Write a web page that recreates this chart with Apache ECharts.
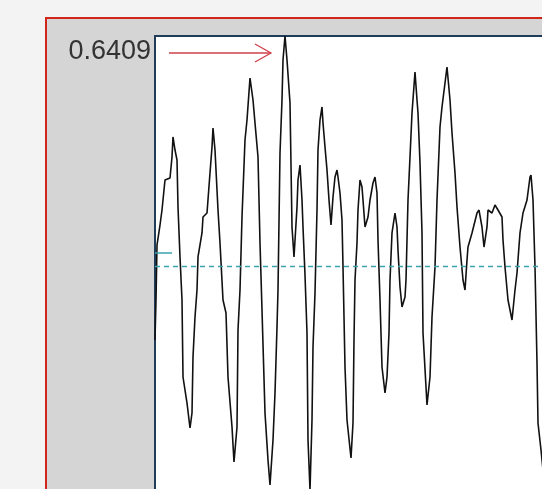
<!DOCTYPE html>
<html>
<head>
<meta charset="utf-8">
<script src="https://cdn.jsdelivr.net/npm/echarts@6/dist/echarts.min.js"></script>
<style>
html,body{margin:0;padding:0;background:#f3f3f3;}
#chart{width:542px;height:489px;}
</style>
</head>
<body>
<div id="chart"></div>
<script>
// sample index (time) of each traced point
const sampleTimes = [0,1,2,5,7,10,15,17,18,20,22,23,25,27,28,32,35,37,38,40,42,43,47,48,52,55,57,58,60,63,65,68,71,73,77,79,82,83,85,87,90,92,95,98,100,103,105,107,110,113,115,118,120,122,123,125,127,128,130,132,135,137,139,142,143,145,147,148,150,152,153,155,157,158,160,162,163,165,167,168,170,172,174,176,178,180,182,183,185,187,188,190,192,196,198,199,200,202,203,205,207,208,210,213,215,218,220,222,223,225,227,230,232,234,235,237,240,242,243,245,247,250,251,253,255,257,260,262,263,265,267,268,272,275,277,280,282,285,287,292,295,297,300,302,305,308,310,312,313,317,322,324,327,329,332,333,337,340,343,347,348,350,353,357,360,362,365,368,372,375,376,378,380,382,383,386,388];
// signal amplitude at each traced point
const amplitudes = [-0.2062,-0.0947,0.0585,0.1142,0.1560,0.2396,0.2452,0.3037,0.3595,0.3232,0.2954,0.1644,0.0251,-0.0947,-0.3093,-0.3818,-0.4514,-0.4096,-0.2536,-0.1421,-0.0669,0.0251,0.0920,0.1365,0.1477,0.2591,0.3316,0.3845,0.3232,0.1560,0.0641,-0.0947,-0.1310,-0.3093,-0.4486,-0.5462,-0.4486,-0.1783,-0.0669,0.1365,0.3511,0.4068,0.5239,0.4626,0.3985,0.3037,0.0641,-0.1226,-0.4096,-0.5406,-0.6102,-0.4849,-0.3539,-0.1700,-0.0669,0.3149,0.4626,0.5740,0.6409,0.5740,0.4542,0.1087,0.0251,0.1644,0.2396,0.2814,0.1839,0.1087,-0.0251,-0.1867,-0.4849,-0.6242,-0.4291,-0.2257,-0.0752,0.1560,0.3232,0.4068,0.4431,0.3985,0.3316,0.2675,0.1839,0.1142,0.1923,0.2480,0.2675,0.2480,0.2034,0.1282,-0.0028,-0.2814,-0.4291,-0.5350,-0.4375,-0.2062,-0.0390,0.0641,0.1560,0.2396,0.2201,0.1839,0.1087,0.1365,0.1839,0.2313,0.2480,0.2034,0.0724,-0.0947,-0.2814,-0.3539,-0.3093,-0.1867,-0.0390,0.0920,0.1477,0.1087,0.0446,-0.0585,-0.1142,-0.0864,-0.0390,0.1839,0.3037,0.4263,0.5406,0.4626,0.4263,0.2870,0.0920,-0.1867,-0.3873,-0.3093,-0.1421,-0.0028,0.1839,0.3873,0.4431,0.5545,0.4626,0.3706,0.2591,0.1644,0.0529,-0.0390,-0.0669,0.0167,0.0529,0.0920,0.1477,0.1560,0.1087,0.0529,0.1087,0.1560,0.1477,0.1700,0.1560,0.1365,0.0724,-0.0028,-0.0947,-0.1505,-0.0669,-0.0195,0.0920,0.1477,0.1839,0.2480,0.2536,0.1839,-0.0028,-0.2703,-0.4375,-0.5127,-0.5684];
const peakLabel = '0.6409';
const peakValue = 0.6409;
const axisMin = -0.6214;
const timeMax = 387;
const meanLevel = 0;
const markerLevel = 0.0362;
const markerTimes = [0, 17];

const chart = echarts.init(document.getElementById('chart'), null, {renderer:'canvas'});
const lineData = sampleTimes.map((t,i)=>[t, amplitudes[i]]);
const markerData = markerTimes.map(t=>[t, markerLevel]);
const borderCol = '#1f3c58';

chart.setOption({
  backgroundColor:'#f3f3f3',
  animation:false,
  graphic:[
    {type:'rect', z:-10, shape:{x:46,y:18,width:600,height:600}, style:{fill:'#d5d5d5', stroke:'#d0261a', lineWidth:2}},
    {type:'text', z:10, style:{text:peakLabel, x:151, y:52, align:'right', verticalAlign:'middle', font:'27px "Liberation Sans", Arial, sans-serif', fill:'#333333'}},
    {type:'line', z:10, shape:{x1:169,y1:53,x2:271,y2:53}, style:{stroke:'#d0404a', lineWidth:1.3}},
    {type:'polyline', z:10, shape:{points:[[255,44],[271,53],[255,62]]}, style:{stroke:'#d0404a', lineWidth:1.3, fill:null}}
  ],
  grid:{left:155, top:36, right:0, bottom:0, show:true, backgroundColor:'#ffffff', borderWidth:0},
  xAxis:{type:'value', min:0, max:timeMax, position:'top',
    axisLine:{show:true, onZero:false, lineStyle:{color:borderCol, width:2}},
    axisTick:{show:false}, axisLabel:{show:false}, splitLine:{show:false}},
  yAxis:{type:'value', max:peakValue, min:axisMin,
    axisLine:{show:true, onZero:false, lineStyle:{color:borderCol, width:2}},
    axisTick:{show:false}, axisLabel:{show:false}, splitLine:{show:false}},
  series:[
    {type:'line', data:lineData, symbol:'none', clip:true, lineStyle:{color:'#111111', width:1.6},
     markLine:{silent:true, symbol:'none', label:{show:false}, lineStyle:{color:'#3aa3ad', type:[5,4], width:1.3}, data:[{yAxis:meanLevel}]}},
    {type:'line', data:markerData, symbol:'none', lineStyle:{color:'#3aa3ad', width:1.5}}
  ]
});
</script>
</body>
</html>
